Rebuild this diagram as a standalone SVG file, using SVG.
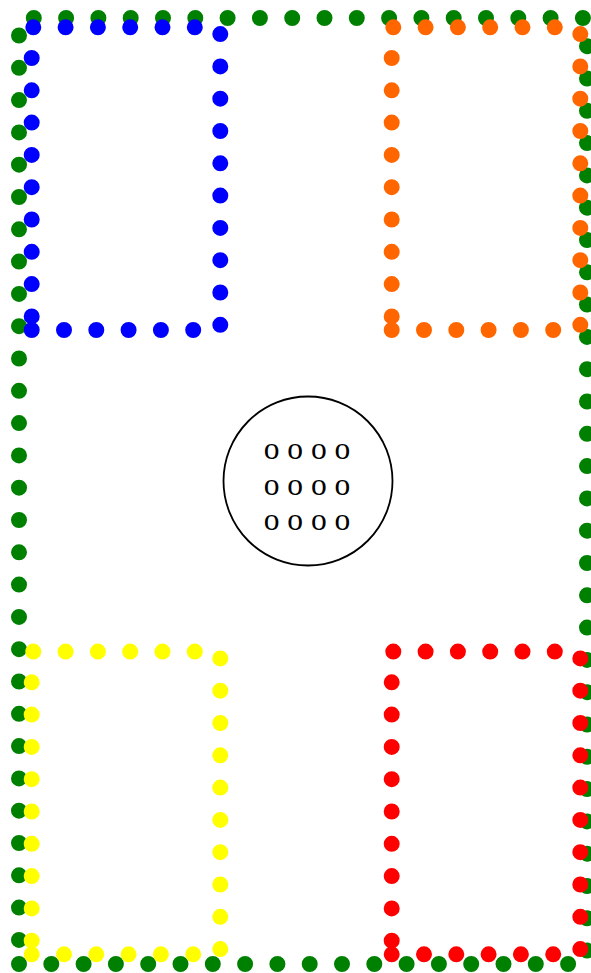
<svg xmlns="http://www.w3.org/2000/svg" width="591" height="973" viewBox="0 0 591 973">
<style>
.dots{fill:none;stroke-width:16;stroke-linecap:round;stroke-dasharray:0 32.3}
.green{stroke:#008000}
.blue{stroke:#0000ff}
.orange{stroke:#ff6600}
.yellow{stroke:#ffff00}
.red{stroke:#ff0000}
.hub{fill:#ffffff;stroke:#000000;stroke-width:1.8}
.label{font-family:"Liberation Serif","Times New Roman",serif;font-size:31.5px;fill:#000000;text-anchor:middle}
</style>
<rect width="591" height="973" fill="#ffffff"/>
<g id="border">
<path class="dots green" d="M19 964 H587 V18 H19 Z"/>
</g>
<g id="blue-home">
<path class="dots blue" d="M31.7 330 H220.3 V27.3 H31.7 Z"/>
</g>
<g id="orange-home">
<path class="dots orange" d="M391.7 330 H580.3 V27.3 H391.7 Z"/>
</g>
<g id="yellow-home">
<path class="dots yellow" d="M31.7 954.3 H220.3 V651.6 H31.7 Z"/>
</g>
<g id="red-home">
<path class="dots red" d="M391.7 954.3 H580.3 V651.6 H391.7 Z"/>
</g>
<g id="center">
<circle class="hub" cx="308" cy="481" r="84.5"/>
<text class="label" x="307" y="459.3">o o o o</text>
<text class="label" x="307" y="494.8">o o o o</text>
<text class="label" x="307" y="530.3">o o o o</text>
</g>
<g id="connectors"/>
</svg>
